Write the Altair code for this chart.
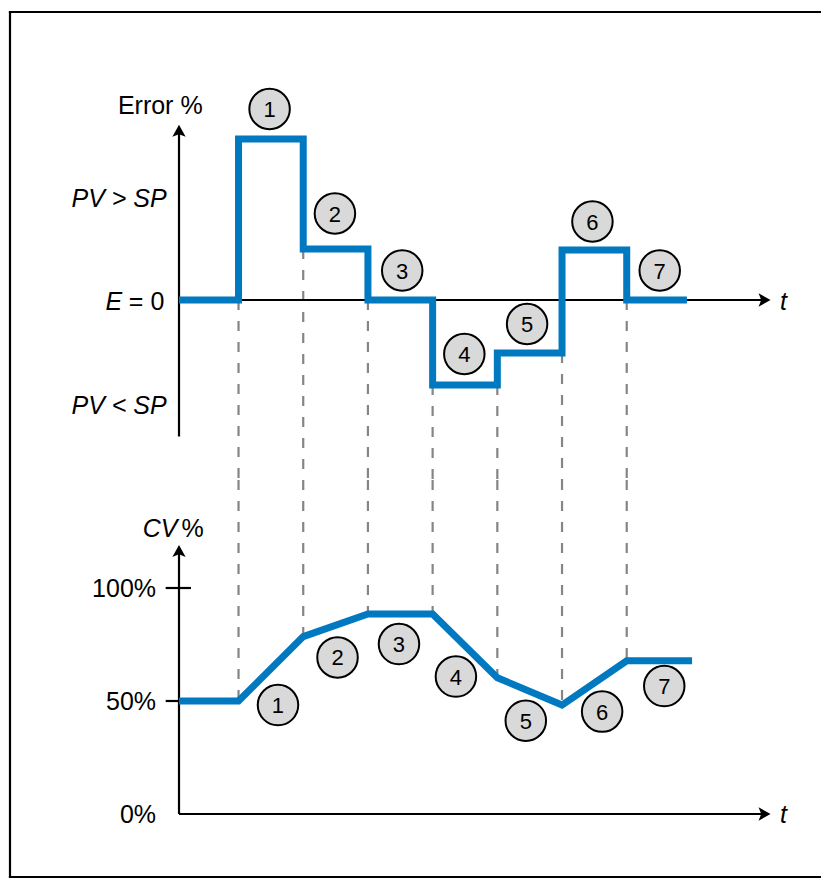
import altair as alt
import pandas as pd

# ---------------- data ----------------
step_times = [0.92, 1.92, 2.92, 3.92, 4.92, 5.92, 6.92]
error_end = 7.85
cv_end = 7.93
# error level in each interval: before step 1, after step 1 ... after step 7
error_levels = [0.0, 3.22, 1.02, 0.0, -1.70, -1.06, 1.00, 0.0]
# CV value at start, at each step time, at end
cv_values = [50, 50, 78.5, 88.5, 88.5, 60.3, 48.2, 67.8, 67.8]

numbers = ["1", "2", "3", "4", "5", "6", "7"]
err_num_t = [1.40, 2.41, 3.45, 4.41, 5.38, 6.39, 7.43]
err_num_e = [3.82, 1.73, 0.59, -1.08, -0.48, 1.57, 0.59]
cv_num_t = [1.53, 2.45, 3.40, 4.28, 5.36, 6.54, 7.50]
cv_num_v = [48.2, 69.3, 75.2, 60.8, 41.3, 45.3, 56.6]

cv_ticks = [0, 50, 100]
cv_tick_labels = ["0%", "50%", "100%"]
err_side_labels = ["PV > SP", "PV < SP"]
err_side_e = [2.05, -2.09]

# axis extents (data units)
err_axis_top, err_axis_bottom = 3.37, -2.73
cv_axis_top = 116.1
t_axis_end = 9.04
junction_e, junction_v = -3.6, 147.8  # where dashed guides pass from one panel to the other

# ---------------- styling ----------------
BLUE = "#0079C1"
FONT = "Liberation Sans"
FS = 25
W, H = 811, 865

xs = alt.Scale(domain=[-2.6121, 9.9227], nice=False, zero=False)
es = alt.Scale(domain=[-11.54, 5.76], nice=False, zero=False)
vs = alt.Scale(domain=[-27.88, 354.87], nice=False, zero=False)

X = lambda f="t": alt.X(f"{f}:Q", scale=xs, axis=None)
YE = lambda f="e": alt.Y(f"{f}:Q", scale=es, axis=None)
YV = lambda f="v": alt.Y(f"{f}:Q", scale=vs, axis=None)

UP = "M0,-1L1,0.8L0,0.4L-1,0.8Z"
RIGHT = "M1,0L-0.8,1L-0.4,0L-0.8,-1Z"

# ---------------- error panel ----------------
err_line_df = pd.DataFrame({"t": [0.0] + step_times + [error_end],
                            "e": error_levels + [error_levels[-1]]})
err_dash_df = pd.DataFrame({
    "t": step_times,
    "e": [min(error_levels[i], error_levels[i + 1]) for i in range(7)],
    "e2": [junction_e] * 7,
})
err_axes_df = pd.DataFrame({"t": [0.0, 0.0], "t2": [0.0, t_axis_end],
                            "e": [err_axis_bottom, 0.0], "e2": [err_axis_top, 0.0]})

err_dash = alt.Chart(err_dash_df).mark_rule(
    color="#858585", strokeWidth=2.2, strokeDash=[10, 11]
).encode(x=X(), y=YE(), y2="e2:Q")

err_axes = alt.Chart(err_axes_df).mark_rule(color="black", strokeWidth=2.2).encode(
    x=X(), x2="t2:Q", y=YE(), y2="e2:Q")

err_up = alt.Chart(pd.DataFrame({"t": [0.0], "e": [err_axis_top]})).mark_point(
    shape=UP, size=177, filled=True, fill="black", strokeWidth=0, opacity=1
).encode(x=X(), y=YE())
err_right = alt.Chart(pd.DataFrame({"t": [t_axis_end], "e": [0.0]})).mark_point(
    shape=RIGHT, size=177, filled=True, fill="black", strokeWidth=0, opacity=1
).encode(x=X(), y=YE())

err_line = alt.Chart(err_line_df).mark_line(
    color=BLUE, strokeWidth=7, interpolate="step-after", strokeJoin="miter", strokeCap="butt"
).encode(x=X(), y=YE())

err_num_df = pd.DataFrame({"t": err_num_t, "e": err_num_e, "n": numbers})
err_circ = alt.Chart(err_num_df).mark_point(
    shape="circle", size=1640, filled=True, fill="#D9D9D9", stroke="black",
    strokeWidth=2, opacity=1, fillOpacity=1, strokeOpacity=1
).encode(x=X(), y=YE())
err_num = alt.Chart(err_num_df).mark_text(
    font=FONT, fontSize=22, color="black", baseline="middle", align="center", dy=1
).encode(x=X(), y=YE(), text="n:N")

err_title = alt.Chart(pd.DataFrame({"t": [-0.29], "e": [3.72]})).mark_text(
    text="Error %", font=FONT, fontSize=FS, align="center", baseline="alphabetic", color="black"
).encode(x=X(), y=YE())
err_side = alt.Chart(pd.DataFrame({"t": [-0.19, -0.19], "e": err_side_e, "s": err_side_labels})).mark_text(
    font=FONT, fontSize=FS, fontStyle="italic", align="right", baseline="middle", dy=1.5, color="black"
).encode(x=X(), y=YE(), text="s:N")
err_e = alt.Chart(pd.DataFrame({"t": [-0.88], "e": [0.0]})).mark_text(
    text="E", font=FONT, fontSize=FS, fontStyle="italic", align="right", baseline="middle", dy=1.5, color="black"
).encode(x=X(), y=YE())
err_eq = alt.Chart(pd.DataFrame({"t": [-0.227], "e": [0.0]})).mark_text(
    text="= 0", font=FONT, fontSize=FS, align="right", baseline="middle", dy=1.5, color="black"
).encode(x=X(), y=YE())
err_t = alt.Chart(pd.DataFrame({"t": [9.29], "e": [0.0]})).mark_text(
    text="t", font=FONT, fontSize=FS, fontStyle="italic", align="left", baseline="middle", dy=1.5, color="black"
).encode(x=X(), y=YE())

err_group = alt.layer(err_dash, err_axes, err_up, err_right, err_line, err_circ, err_num,
                      err_title, err_side, err_e, err_eq, err_t)

# ---------------- CV panel ----------------
cv_times = [0.0] + step_times + [cv_end]
cv_line_df = pd.DataFrame({"t": cv_times, "v": cv_values})
cv_dash_df = pd.DataFrame({"t": step_times, "v": [junction_v] * 7, "v2": cv_values[1:8]})
cv_axes_df = pd.DataFrame({"t": [0.0, 0.0], "t2": [0.0, t_axis_end],
                           "v": [0.0, 0.0], "v2": [cv_axis_top, 0.0]})
cv_tick_df = pd.DataFrame({"t": [-0.206, -0.206], "t2": [0.185, 0.185], "v": cv_ticks[1:]})
cv_lab_df = pd.DataFrame({"t": [-0.355] * 3, "v": cv_ticks, "s": cv_tick_labels})

cv_dash = alt.Chart(cv_dash_df).mark_rule(
    color="#858585", strokeWidth=2.2, strokeDash=[10, 11]
).encode(x=X(), y=YV(), y2="v2:Q")
cv_axes = alt.Chart(cv_axes_df).mark_rule(color="black", strokeWidth=2.2).encode(
    x=X(), x2="t2:Q", y=YV(), y2="v2:Q")
cv_tick = alt.Chart(cv_tick_df).mark_rule(color="black", strokeWidth=2.2).encode(
    x=X(), x2="t2:Q", y=YV())
cv_up = alt.Chart(pd.DataFrame({"t": [0.0], "v": [cv_axis_top]})).mark_point(
    shape=UP, size=177, filled=True, fill="black", strokeWidth=0, opacity=1
).encode(x=X(), y=YV())
cv_right = alt.Chart(pd.DataFrame({"t": [t_axis_end], "v": [0.0]})).mark_point(
    shape=RIGHT, size=177, filled=True, fill="black", strokeWidth=0, opacity=1
).encode(x=X(), y=YV())
cv_line = alt.Chart(cv_line_df).mark_line(
    color=BLUE, strokeWidth=7, strokeJoin="miter", strokeCap="butt"
).encode(x=X(), y=YV())

cv_num_df = pd.DataFrame({"t": cv_num_t, "v": cv_num_v, "n": numbers})
cv_circ = alt.Chart(cv_num_df).mark_point(
    shape="circle", size=1640, filled=True, fill="#D9D9D9", stroke="black",
    strokeWidth=2, opacity=1, fillOpacity=1, strokeOpacity=1
).encode(x=X(), y=YV())
cv_num = alt.Chart(cv_num_df).mark_text(
    font=FONT, fontSize=22, color="black", baseline="middle", align="center", dy=1
).encode(x=X(), y=YV(), text="n:N")

cv_labels = alt.Chart(cv_lab_df).mark_text(
    font=FONT, fontSize=FS, align="right", baseline="middle", dy=1.5, color="black"
).encode(x=X(), y=YV(), text="s:N")
cv_title_a = alt.Chart(pd.DataFrame({"t": [-0.023], "v": [122.4]})).mark_text(
    text="CV", font=FONT, fontSize=FS, fontStyle="italic", align="right", baseline="alphabetic", color="black"
).encode(x=X(), y=YV())
cv_title_b = alt.Chart(pd.DataFrame({"t": [0.039], "v": [122.4]})).mark_text(
    text="%", font=FONT, fontSize=FS, align="left", baseline="alphabetic", color="black"
).encode(x=X(), y=YV())
cv_t = alt.Chart(pd.DataFrame({"t": [9.29], "v": [0.0]})).mark_text(
    text="t", font=FONT, fontSize=FS, fontStyle="italic", align="left", baseline="middle", dy=1.5, color="black"
).encode(x=X(), y=YV())

cv_group = alt.layer(cv_dash, cv_axes, cv_tick, cv_up, cv_right, cv_line, cv_circ, cv_num,
                     cv_labels, cv_title_a, cv_title_b, cv_t)

# ---------------- frame (left, top, bottom edges) ----------------
frame_base = alt.Chart(pd.DataFrame({"k": [0]}))
frame_left = frame_base.mark_rule(color="black", strokeWidth=2.2).encode(
    x=alt.value(0), y=alt.value(-1.1), y2=alt.value(H + 1.1))
frame_top = frame_base.mark_rule(color="black", strokeWidth=2.2).encode(
    x=alt.value(-1.1), x2=alt.value(W + 20), y=alt.value(0))
frame_bottom = frame_base.mark_rule(color="black", strokeWidth=2.2).encode(
    x=alt.value(-1.1), x2=alt.value(W + 20), y=alt.value(H))
frame = alt.layer(frame_left, frame_top, frame_bottom)

chart = alt.layer(frame, err_group, cv_group).resolve_scale(y="independent").properties(
    width=W, height=H,
    padding={"left": 2, "top": 4, "right": 0, "bottom": 1},
    autosize=alt.AutoSizeParams(type="none"),
    background="white",
).configure_view(stroke=None)

chart.save("out.html", embed_options={"renderer": "svg", "actions": False})
